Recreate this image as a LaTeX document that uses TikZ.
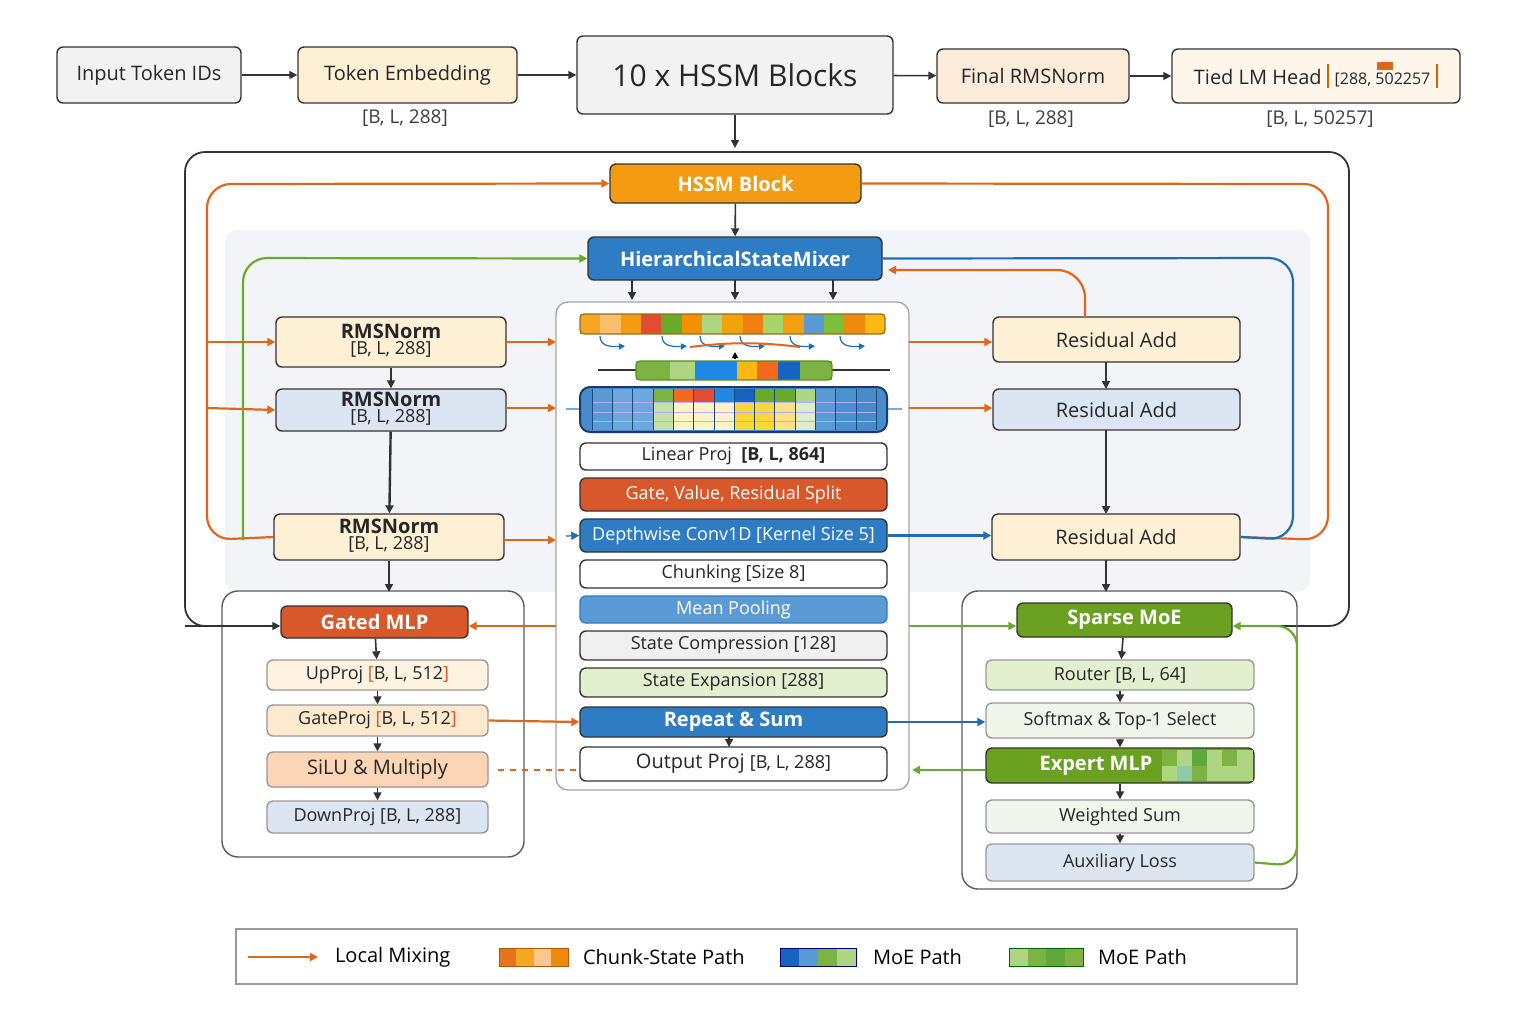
\documentclass[tikz,border=0pt]{standalone}
\usepackage{fontspec}
\setmainfont{Open Sans}
\usetikzlibrary{arrows.meta}
\definecolor{cream}{HTML}{FDF0D5}
\definecolor{lblue}{HTML}{DCE6F2}
\definecolor{hblue}{HTML}{2E7CC4}
\definecolor{horange}{HTML}{F39C12}
\definecolor{rorange}{HTML}{D9582B}
\definecolor{hgreen}{HTML}{6AA121}
\definecolor{lgreen}{HTML}{E2F0D0}
\definecolor{vlgreen}{HTML}{F0F6EA}
\definecolor{lnorange}{HTML}{E0661B}
\definecolor{lngreen}{HTML}{6AAA2A}
\definecolor{lnblue}{HTML}{1F6DB5}
\definecolor{dk}{HTML}{333333}
\definecolor{panelbg}{HTML}{F3F4F7}
\newcommand\B[7]{\node[#1, minimum width={(#5-#3)*0.5pt}, minimum height={(#6-#4)*0.5pt}] (#2) at ({(#3+#5)/2},{(#4+#6)/2}) {#7};}
\newcommand\cell[5]{\edef\mytmpdef{\noexpand\definecolor{tmpc}{HTML}{#1}}\mytmpdef\fill[tmpc] ({#2},{#3}) rectangle ({#4},{#5});}
\newcommand\hcol[2]{\definecolor{#1}{HTML}{#2}}
\tikzset{
 bx/.style={draw=dk, line width=0.7pt, rounded corners=3pt, inner sep=0pt, font=\fontsize{9}{10}\selectfont, text=black!85},
 tb/.style={bx, font=\fontsize{10}{11}\selectfont\bfseries, text=white},
 lab/.style={font=\fontsize{9.5}{10}\selectfont, text=black!75},
 ar/.style={-{Triangle[length=4pt,width=4pt]}, line width=0.8pt, draw=dk},
 oa/.style={ar, draw=lnorange, line width=1.1pt},
 ga/.style={ar, draw=lngreen, line width=1.1pt},
 ba/.style={ar, draw=lnblue, line width=1.1pt},
}
\begin{document}
\begin{tikzpicture}[x=0.5pt,y=-0.5pt]
\useasboundingbox (0,0) rectangle (1536,1024);
\fill[white] (0,0) rectangle (1536,1024);
% background panels
\fill[panelbg, rounded corners=6pt] (225,230) rectangle (1310,592);
\draw[dk, line width=0.9pt, rounded corners=10pt] (278,626) -- (185,626) -- (185,152) -- (1349,152) -- (1349,626) -- (1240,626);
\draw[dk!80, line width=0.7pt, rounded corners=8pt] (222,591) rectangle (524,857);
\draw[dk!80, line width=0.7pt, rounded corners=8pt] (962,591) rectangle (1297,889);
\draw[black!35, fill=white, line width=0.7pt, rounded corners=6pt] (556,302) rectangle (909,790);
% top row
\B{bx, fill={rgb,255:red,242;green,242;blue,242}, font=\fontsize{10}{11}\selectfont}{inp}{57}{47}{241}{103}{Input Token IDs}
\B{bx, fill=cream, font=\fontsize{10}{11}\selectfont}{emb}{298}{47}{517}{103}{Token Embedding}
\B{bx, fill={rgb,255:red,242;green,242;blue,242}, font=\fontsize{15}{16}\selectfont}{blocks}{577}{36}{893}{114}{10 x HSSM Blocks}
\B{bx, fill={rgb,255:red,251;green,235;blue,217}, font=\fontsize{10}{11}\selectfont}{fnorm}{937}{49}{1129}{103}{Final RMSNorm}
\B{bx, fill={rgb,255:red,254;green,246;blue,234}, font=\fontsize{10}{11}\selectfont}{head}{1172}{49}{1460}{103}{Tied LM Head \textcolor{orange!80!black}{\rule[-2pt]{1.3pt}{12pt}} {\fontsize{8}{9}\selectfont[288, 502257} \textcolor{orange!80!black}{\rule[-2pt]{1.3pt}{12pt}}}
\fill[lnorange] (1377,62) rectangle (1393,70);
\node[lab] at (405,118) {[B, L, 288]};
\node[lab] at (1031,119) {[B, L, 288]};
\node[lab] at (1320,119) {[B, L, 50257]};
\draw[ar] (inp) -- (emb);
\draw[ar] (emb) -- (blocks);
\draw[ar] (blocks) -- (fnorm);
\draw[ar] (fnorm) -- (head);
\coordinate (bt) at (735,148);
\draw[ar] (blocks) -- (bt);
% HSSM block
\B{tb, fill=horange}{hb}{610}{164}{861}{203}{HSSM Block}
\B{tb, fill=hblue}{hsm}{588}{237}{882}{280}{HierarchicalStateMixer}
\draw[ar] (hb) -- (hsm);
% left column
\B{bx, fill=cream}{r1}{276}{317}{506}{367}{\begin{tabular}{@{}c@{}}{\fontsize{10}{11}\selectfont\bfseries RMSNorm}\\[-2pt]{[B, L, 288]}\end{tabular}}
\B{bx, fill=lblue}{r2}{276}{389}{506}{431}{\begin{tabular}{@{}c@{}}{\fontsize{10}{11}\selectfont\bfseries RMSNorm}\\[-2pt]{[B, L, 288]}\end{tabular}}
\B{bx, fill=cream}{r3}{274}{514}{504}{560}{\begin{tabular}{@{}c@{}}{\fontsize{10}{11}\selectfont\bfseries RMSNorm}\\[-2pt]{[B, L, 288]}\end{tabular}}
\draw[ar] (r1) -- (r2);
\draw[ar, line width=1.2pt] (r2) -- (r3);
\coordinate (r3b) at (389,592);
\draw[ar] (r3) -- (r3b);
% right column
\B{bx, fill=cream, font=\fontsize{10}{11}\selectfont}{a1}{993}{317}{1240}{362}{Residual Add}
\B{bx, fill=lblue, font=\fontsize{10}{11}\selectfont}{a2}{993}{389}{1240}{430}{Residual Add}
\B{bx, fill=cream, font=\fontsize{10}{11}\selectfont}{a3}{992}{514}{1240}{560}{Residual Add}
\draw[ar] (1106,362) -- (1106,389);
\draw[ar, line width=1.2pt] (1106,430) -- (1106,514);
\coordinate (a3b) at (1106,592);
\draw[ar] (1106,560) -- (a3b);
% center stack
\B{bx, fill=white}{lp}{580}{443}{887}{470}{Linear Proj\ \ {\bfseries [B, L, 864]}}
\B{bx, fill=rorange, text=white}{gv}{580}{478}{887}{511}{Gate, Value, Residual Split}
\B{bx, fill=hblue, text=white}{dc}{580}{519}{887}{552}{Depthwise Conv1D [Kernel Size 5]}
\B{bx, fill=white}{ch}{580}{560}{887}{588}{Chunking [Size 8]}
\B{bx, fill={rgb,255:red,91;green,155;blue,213}, text=white, draw=hblue}{mp}{580}{596}{887}{623}{Mean Pooling}
\B{bx, fill={rgb,255:red,240;green,240;blue,240}}{sc}{580}{631}{887}{660}{State Compression [128]}
\B{bx, fill=lgreen}{se}{580}{668}{887}{697}{State Expansion [288]}
\B{tb, fill=hblue}{rs}{580}{707}{887}{737}{Repeat \& Sum}
\B{bx, fill=white, font=\fontsize{10}{11}\selectfont}{op}{580}{747}{887}{781}{Output Proj {\fontsize{9}{10}\selectfont[B, L, 288]}}
\draw[ar, line width=0.6pt] (729,737) -- (729,747);
% HSM down arrows
\foreach \x in {632,735,833} \draw[ar] (\x,280) -- (\x,300);
% color bar 1
\foreach \c [count=\i] in {F5A623,FBBF6B,F39C12,E24C32,6AAA2A,F39100,AED581,F0A30A,F07F12,A8D56B,F5A010,5B9BD5,7CBF3A,F08A0C,FDB913}
 {\cell{\c}{580+(\i-1)*20.33}{314}{580+\i*20.33}{334}}
\draw[rounded corners=2pt, draw={rgb,255:red,150;green,110;blue,30}, line width=0.6pt] (580,314) rectangle (885,334);
\foreach \x in {600,662,700,740,790,840}
 \draw[lnblue, line width=0.6pt, -{Triangle[length=3pt,width=3pt]}] (\x,336) .. controls (\x,346) and ({\x+10},347) .. ({\x+25},346) ;
\draw[lnorange, line width=1pt] (690,347) .. controls (730,342) and (760,342) .. (800,347);
\draw[-{Triangle[length=3pt,width=3pt]}, line width=0.8pt] (735,358) -- (735,352);
% row 2
\draw[dk, line width=0.6pt] (598,370) -- (636,370) (832,370) -- (890,370);
\foreach \c/\a/\b in {7CB342/636/670,AED581/670/695,1E88E5/695/716,1E88E5/716/737,FDB913/737/757,F26B1D/757/778,1565C0/778/800,7CB342/800/832}
 {\cell{\c}{\a}{361}{\b}{380}}
\draw[draw={rgb,255:red,90;green,140;blue,30}, rounded corners=2pt, line width=0.6pt] (636,361) rectangle (832,380);
% grid
\draw[draw={rgb,255:red,120;green,170;blue,220}, line width=0.8pt] (566,409) -- (580,409) (887,409) -- (902,409);
\hcol{gridbg}{4A8CCB}
\fill[gridbg, rounded corners=5pt] (580,387) rectangle (887,432);
\foreach \c/\d [count=\i] in {5B9BD5/5B9BD5,6FA8DC/6FA8DC,6FA8DC/6FA8DC,7CB342/C5E1A5,F26B1D/FFF3C4,E24C32/FFF3C4,1E88E5/FFF3C4,1565C0/FDD835,6AAA2A/FDD835,6AAA2A/FFE082,AED581/DCEDC8,5B9BD5/5B9BD5,4A90D2/4A90D2,4A8CCB/4A8CCB}
 {\cell{\c}{592+(\i-1)*20.3}{389}{592+\i*20.3}{402}
  \cell{\d}{592+(\i-1)*20.3}{402}{592+\i*20.3}{430}}
\foreach \y in {402,412,421} \draw[white!70!blue, line width=0.3pt] (592,\y) -- (876,\y);
\foreach \i in {0,...,14} \draw[hblue!60!black, line width=0.3pt] ({592+\i*20.3},389) -- ({592+\i*20.3},430);
\draw[draw={rgb,255:red,20;green,60;blue,110}, line width=1pt, rounded corners=5pt] (580,387) rectangle (887,432);
% left box
\B{tb, fill=rorange}{gm}{281}{606}{468}{638}{Gated MLP}
\B{bx, fill={rgb,255:red,254;green,243;blue,224}, draw=black!40}{up}{267}{660}{488}{690}{UpProj \textcolor{rorange}{[}B, L, 512\textcolor{rorange}{]}}
\B{bx, fill={rgb,255:red,253;green,233;blue,205}, draw=black!40}{gp}{267}{705}{488}{736}{GateProj \textcolor{rorange}{[}B, L, 512\textcolor{rorange}{]}}
\B{bx, fill={rgb,255:red,251;green,213;blue,181}, draw=black!40, font=\fontsize{10}{11}\selectfont}{si}{267}{752}{488}{787}{SiLU \& Multiply}
\B{bx, fill=lblue, draw=black!40}{dp}{267}{801}{488}{833}{DownProj [B, L, 288]}
\draw[ar] (gm) -- (up);
\draw[ar] (up) -- (gp);
\draw[ar] (gp) -- (si);
\draw[ar] (si) -- (dp);
% right box
\B{tb, fill=hgreen}{sm}{1017}{603}{1232}{637}{Sparse MoE}
\B{bx, fill=lgreen, draw=black!40}{ro}{986}{660}{1254}{690}{Router [B, L, 64]}
\B{bx, fill=vlgreen, draw=black!40}{so}{986}{703}{1254}{738}{Softmax \& Top-1 Select}
\node[bx, fill=hgreen, minimum width=134pt, minimum height=17.5pt] (em) at (1120,765.5) {};
\foreach \c/\d [count=\i] in {7CB342/AED581,AED581/8FC9A8,5FA83A/7CB342,AED581/AED581,7CB342/AED581}
 {\cell{\c}{1162+(\i-1)*15}{750}{1162+\i*15}{766}
  \cell{\d}{1162+(\i-1)*15}{766}{1162+\i*15}{781}}
\cell{AED581}{1237}{750}{1253}{781}
\node[font=\fontsize{10}{11}\selectfont\bfseries, text=white] at (1096,766) {Expert MLP};
\B{bx, fill=vlgreen, draw=black!40}{ws}{986}{800}{1254}{833}{Weighted Sum}
\B{bx, fill=lblue, draw=black!40}{al}{986}{844}{1254}{881}{Auxiliary Loss}
\draw[ar] (sm) -- (ro);
\draw[ar] (ro) -- (so);
\draw[ar] (so) -- (em);
\draw[ar] (em) -- (ws);
\draw[ar] (ws) -- (al);
% long connectors
\draw[oa, rounded corners=12pt] (r3.west) -- (207,540) -- (207,184) -- (hb.west);
\draw[oa] (207,342) -- (r1.west);
\draw[oa] (207,408) -- (r2.west);
\draw[lnorange, line width=1.1pt, rounded corners=12pt] (hb.east) -- (1328,184) -- (1328,540) -- (a3.east);
\draw[ga, rounded corners=12pt] (243,540) -- (243,258) -- (hsm.west);
\draw[lnblue, line width=1.1pt, rounded corners=12pt] (hsm.east) -- (1293,258) -- (1293,540) -- (a3.east);
\coordinate (hsmr) at (888,270);
\draw[oa, rounded corners=14pt] (1085,317) -- (1085,270) -- (hsmr);
\coordinate (pl1) at (556,342); \coordinate (pl2) at (556,408); \coordinate (pl3) at (556,540);
\draw[oa] (506,342) -- (pl1);
\draw[oa] (506,408) -- (pl2);
\draw[oa] (504,540) -- (pl3);
\draw[oa] (909,342) -- (a1.west |- 0,342);
\draw[oa] (909,408) -- (a2.west |- 0,408);
\draw[ba] (dc.east) -- (a3.west |- dc.east);
\draw[ba, line width=0.6pt] (566,536) -- (dc.west);
\draw[oa] (556,626) -- (gm.east |- 0,626);
\draw[ga] (909,626) -- (sm.west |- 0,626);
\draw[ga, rounded corners=10pt] (al.east) -- (1297,866) -- (1297,626) -- (sm.east |- 0,626);
\draw[oa] (gp.east) -- (rs.west);
\draw[lnorange, line width=0.8pt, dashed] (498,770) -- (op.west |- 0,770);
\draw[ba] (rs.east) -- (ro.west |- rs.east);
\coordinate (emt) at (912,770);
\draw[ga] (em.west |- 0,770) -- (emt);
\draw[ar] (185,626) -- (gm.west |- 0,626);
% legend
\draw[black!40, line width=0.7pt] (236,929) rectangle (1297,984);
\draw[oa] (248,957) -- (318,957);
\node[anchor=west, font=\fontsize{10}{11}\selectfont] at (328,957) {Local Mixing};
\foreach \c [count=\i] in {E8731F,F5A623,FBC78A,F08A0C}
 {\cell{\c}{499+(\i-1)*17.25}{948}{499+\i*17.25}{966}}
\draw[draw=orange!70!black, line width=0.5pt] (499,948) rectangle (568,966);
\node[anchor=west, font=\fontsize{10}{11}\selectfont] at (576,957) {Chunk-State Path};
\foreach \c [count=\i] in {1565C0,5B9BD5,7CB342,AED581}
 {\cell{\c}{780+(\i-1)*19}{948}{780+\i*19}{966}}
\draw[draw=blue!50!black, line width=0.5pt] (780,948) rectangle (856,966);
\node[anchor=west, font=\fontsize{10}{11}\selectfont] at (866,957) {MoE Path};
\foreach \c [count=\i] in {AED581,7CB342,5FA83A,7CB342}
 {\cell{\c}{1009+(\i-1)*18.5}{948}{1009+\i*18.5}{966}}
\draw[draw=green!40!black, line width=0.5pt] (1009,948) rectangle (1083,966);
\node[anchor=west, font=\fontsize{10}{11}\selectfont] at (1091,957) {MoE Path};
\end{tikzpicture}
\end{document}
